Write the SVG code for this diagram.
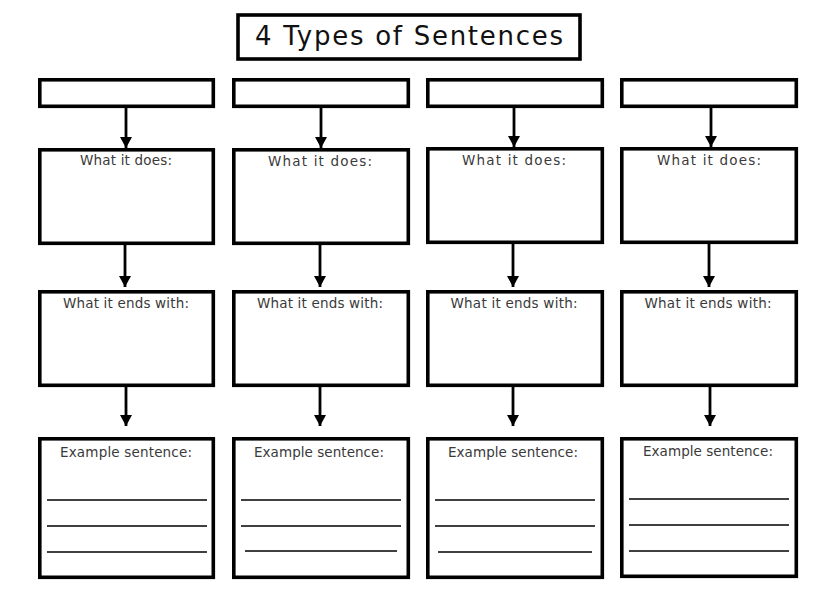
<svg xmlns="http://www.w3.org/2000/svg" width="818" height="594" viewBox="0 0 818 594">
<defs>
<marker id="ah" markerUnits="userSpaceOnUse" markerWidth="11" markerHeight="12" viewBox="0 0 11 12" refX="11" refY="6" orient="auto">
<path d="M0,0 L11,6 L0,12 Z" fill="#000"/>
</marker>
<style>
.box{fill:#fff;stroke:#000;stroke-width:3.6}
.lbl{font-family:"DejaVu Sans","Liberation Sans",sans-serif;font-size:13.5px;fill:#3a3a3a;text-anchor:middle}
.ttl{font-family:"DejaVu Sans","Liberation Sans",sans-serif;font-size:26px;fill:#111;text-anchor:middle}
.wl{stroke:#000;stroke-width:1.3}
.arr{stroke:#000;stroke-width:2.8;fill:none}
</style>
</defs>
<rect width="818" height="594" fill="#fff"/>

<g id="title">
<rect class="box" x="238" y="15" width="342" height="44"/>
<text class="ttl" x="409" y="45" textLength="308" lengthAdjust="spacing">4 Types of Sentences</text>
</g>

<g id="col1">
<g id="c1-type"><rect class="box" x="39.8" y="79.8" width="173.5" height="26.5"/></g>
<g id="c1-does"><rect class="box" x="39.8" y="149.8" width="173.5" height="93.5"/><text class="lbl" x="126" y="165" textLength="92" lengthAdjust="spacing">What it does:</text></g>
<g id="c1-ends"><rect class="box" x="39.8" y="291.8" width="173.5" height="93.5"/><text class="lbl" x="126" y="308" textLength="126" lengthAdjust="spacing">What it ends with:</text></g>
<g id="c1-example"><rect class="box" x="39.8" y="438.8" width="173.5" height="138.5"/><text class="lbl" x="126" y="457" textLength="132" lengthAdjust="spacing">Example sentence:</text>
<line class="wl" x1="47" y1="500" x2="207" y2="500"/><line class="wl" x1="47" y1="526" x2="207" y2="526"/><line class="wl" x1="47" y1="552" x2="207" y2="552"/></g>
</g>

<g id="col2">
<g id="c2-type"><rect class="box" x="233.8" y="79.8" width="174.5" height="26.5"/></g>
<g id="c2-does"><rect class="box" x="233.8" y="149.8" width="174.5" height="93.5"/><text class="lbl" x="320" y="166" textLength="104" lengthAdjust="spacing">What it does:</text></g>
<g id="c2-ends"><rect class="box" x="233.8" y="291.8" width="174.5" height="93.5"/><text class="lbl" x="320" y="308" textLength="126" lengthAdjust="spacing">What it ends with:</text></g>
<g id="c2-example"><rect class="box" x="233.8" y="438.8" width="174.5" height="138.5"/><text class="lbl" x="319" y="457" textLength="130" lengthAdjust="spacing">Example sentence:</text>
<line class="wl" x1="241" y1="500" x2="401" y2="500"/><line class="wl" x1="241" y1="526" x2="401" y2="526"/><line class="wl" x1="245" y1="551" x2="397" y2="551"/></g>
</g>

<g id="col3">
<g id="c3-type"><rect class="box" x="427.8" y="79.8" width="174.5" height="26.5"/></g>
<g id="c3-does"><rect class="box" x="427.8" y="148.8" width="174.5" height="93.5"/><text class="lbl" x="514" y="165" textLength="104" lengthAdjust="spacing">What it does:</text></g>
<g id="c3-ends"><rect class="box" x="427.8" y="291.8" width="174.5" height="93.5"/><text class="lbl" x="514" y="308" textLength="127" lengthAdjust="spacing">What it ends with:</text></g>
<g id="c3-example"><rect class="box" x="427.8" y="438.8" width="174.5" height="138.5"/><text class="lbl" x="513" y="457" textLength="130" lengthAdjust="spacing">Example sentence:</text>
<line class="wl" x1="435" y1="500" x2="595" y2="500"/><line class="wl" x1="435" y1="526" x2="595" y2="526"/><line class="wl" x1="438" y1="552" x2="592" y2="552"/></g>
</g>

<g id="col4">
<g id="c4-type"><rect class="box" x="621.8" y="79.8" width="174.5" height="26.5"/></g>
<g id="c4-does"><rect class="box" x="621.8" y="148.8" width="174.5" height="93.5"/><text class="lbl" x="709" y="165" textLength="104" lengthAdjust="spacing">What it does:</text></g>
<g id="c4-ends"><rect class="box" x="621.8" y="291.8" width="174.5" height="93.5"/><text class="lbl" x="708" y="308" textLength="127" lengthAdjust="spacing">What it ends with:</text></g>
<g id="c4-example"><rect class="box" x="621.8" y="438.8" width="174.5" height="137.5"/><text class="lbl" x="708" y="456" textLength="130" lengthAdjust="spacing">Example sentence:</text>
<line class="wl" x1="629" y1="499" x2="789" y2="499"/><line class="wl" x1="629" y1="525" x2="789" y2="525"/><line class="wl" x1="629" y1="551" x2="789" y2="551"/></g>
</g>

<g id="connectors">
<line class="arr" x1="126" y1="108" x2="126" y2="148" marker-end="url(#ah)"/>
<line class="arr" x1="125" y1="245" x2="125" y2="287" marker-end="url(#ah)"/>
<line class="arr" x1="126" y1="387" x2="126" y2="426" marker-end="url(#ah)"/>
<line class="arr" x1="321" y1="108" x2="321" y2="148" marker-end="url(#ah)"/>
<line class="arr" x1="320" y1="245" x2="320" y2="287" marker-end="url(#ah)"/>
<line class="arr" x1="320" y1="387" x2="320" y2="426" marker-end="url(#ah)"/>
<line class="arr" x1="514" y1="108" x2="514" y2="147" marker-end="url(#ah)"/>
<line class="arr" x1="513" y1="244" x2="513" y2="287" marker-end="url(#ah)"/>
<line class="arr" x1="513" y1="387" x2="513" y2="426" marker-end="url(#ah)"/>
<line class="arr" x1="711" y1="108" x2="711" y2="147" marker-end="url(#ah)"/>
<line class="arr" x1="709" y1="244" x2="709" y2="287" marker-end="url(#ah)"/>
<line class="arr" x1="710" y1="387" x2="710" y2="426" marker-end="url(#ah)"/>
</g>
</svg>
